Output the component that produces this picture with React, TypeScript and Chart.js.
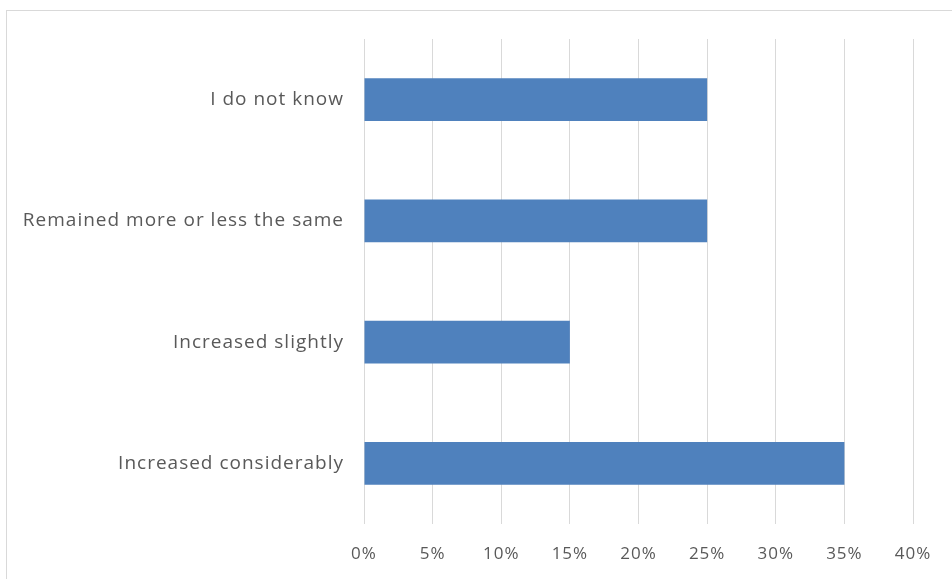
import React, { useEffect, useRef } from "react";
import { Chart, registerables } from "chart.js";

Chart.register(...registerables);

const categories = [
  "I do not know",
  "Remained more or less the same",
  "Increased slightly",
  "Increased considerably",
];
const values = [0.25, 0.25, 0.15, 0.35];
const xMin = 0;
const xMax = 0.4;
const xStep = 0.05;

const spacingPlugin = {
  id: "spacing",
  beforeDraw(chart: any) {
    chart.ctx.letterSpacing = "1px";
  },
};

export default function App() {
  const ref = useRef<HTMLCanvasElement | null>(null);
  useEffect(() => {
    if (!ref.current) return;
    const chart = new Chart(ref.current, {
      type: "bar",
      data: {
        labels: categories,
        datasets: [
          {
            data: values,
            backgroundColor: "#4F81BD",
            borderWidth: 0,
            barPercentage: 0.354,
            categoryPercentage: 1,
          },
        ],
      },
      options: {
        indexAxis: "y",
        animation: false,
        responsive: false,
        maintainAspectRatio: false,
        layout: { padding: { top: 39, right: 39, left: 0, bottom: 0 } },
        plugins: { legend: { display: false }, tooltip: { enabled: false } },
        scales: {
          x: {
            min: xMin,
            max: xMax,
            border: { display: false },
            grid: { color: "#d9d9d9", lineWidth: 1, drawTicks: false },
            ticks: {
              stepSize: xStep,
              padding: 20,
              color: "#595959",
              font: { family: "Open Sans", size: 17 },
              callback: (v: any) => Math.round(Number(v) * 100) + "%",
            },
            afterFit: (s: any) => {
              s.height = 55;
            },
          },
          y: {
            border: { display: false },
            grid: { display: false, drawTicks: false },
            ticks: {
              padding: 20,
              color: "#595959",
              font: { family: "Open Sans", size: 19 },
            },
            afterFit: (s: any) => {
              s.width = 364;
            },
          },
        },
      },
      plugins: [spacingPlugin],
    });
    return () => chart.destroy();
  }, []);
  return (
    <div style={{ position: "absolute", left: 0, top: 0, width: 952, height: 579, background: "#fff", overflow: "hidden" }}>
      <div
        style={{
          position: "absolute",
          left: 6,
          top: 10,
          width: 1000,
          height: 1000,
          borderLeft: "1px solid #d9d9d9",
          borderTop: "1px solid #d9d9d9",
        }}
      />
      <canvas ref={ref} width={952} height={579} style={{ position: "absolute", left: 0, top: 0 }} />
    </div>
  );
}
